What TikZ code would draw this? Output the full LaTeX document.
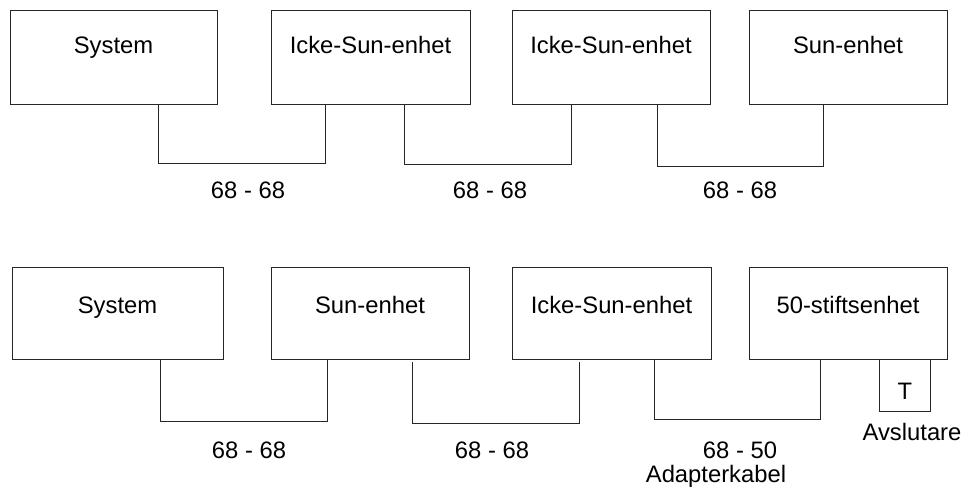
\documentclass[tikz,border=0pt]{standalone}
\usepackage{fontspec}
\setmainfont{Liberation Sans}
\usetikzlibrary{calc}
\begin{document}
\begin{tikzpicture}[x=1pt,y=-1pt,
  box/.style={draw=black!85,line width=1pt,minimum width=#1,minimum height=93pt,inner sep=0pt},
  txt/.style={font=\fontsize{23.8}{28}\selectfont,anchor=base,inner sep=0pt},
  wire/.style={draw=black!85,line width=1pt}]
\useasboundingbox (0,0) rectangle (966,487);
% top row
\node[box=207pt] (t1) at (113.5,57.5) {};
\node[box=199pt] (t2) at (370.5,57.5) {};
\node[box=198pt] (t3) at (611,57.5) {};
\node[box=198pt] (t4) at (848,57.5) {};
\node[txt] (t1l) at (113.5,53) {System};
\node[txt] (t2l) at (370.5,53) {Icke-Sun-enhet};
\node[txt] (t3l) at (611,53) {Icke-Sun-enhet};
\node[txt] (t4l) at (848,53) {Sun-enhet};
\draw[wire] (158,0 |- t1.south) |- (325,163) -- (325,0 |- t2.south);
\draw[wire] (404,0 |- t2.south) |- (571,164) -- (571,0 |- t3.south);
\draw[wire] (657,0 |- t3.south) |- (823,166) -- (823,0 |- t4.south);
\node[txt] (c1) at (248,198) {68 - 68};
\node[txt] (c2) at (490,198) {68 - 68};
\node[txt] (c3) at (740,198) {68 - 68};
% bottom row
\node[box=211pt,minimum height=92pt] (b1) at (117.5,313) {};
\node[box=198pt,minimum height=92pt] (b2) at (370,313) {};
\node[box=199pt,minimum height=92pt] (b3) at (611.5,313) {};
\node[box=198pt,minimum height=92pt] (b4) at (848,313) {};
\node[txt] (b1l) at (117.5,313) {System};
\node[txt] (b2l) at (370,313) {Sun-enhet};
\node[txt] (b3l) at (611.5,313) {Icke-Sun-enhet};
\node[txt] (b4l) at (848,313) {50-stiftsenhet};
\node[box=51pt,minimum height=52pt,anchor=north] (term) at (904.5,359) {};
\node[txt] (terml) at (905,399) {T};
\node[txt] (avs) at (912,440) {Avslutare};
\draw[wire] (160,0 |- b1.south) |- (327,421) -- (327,0 |- b2.south);
\draw[wire] (412,362) |- (579,423) -- (579,362);
\draw[wire] (654,0 |- b3.south) |- (820,419) -- (820,0 |- b4.south);
\node[txt] (d1) at (249,458) {68 - 68};
\node[txt] (d2) at (492,458) {68 - 68};
\node[txt] (d3) at (740,458) {68 - 50};
\node[txt] (d3b) at (716,482) {Adapterkabel};
\end{tikzpicture}
\end{document}
